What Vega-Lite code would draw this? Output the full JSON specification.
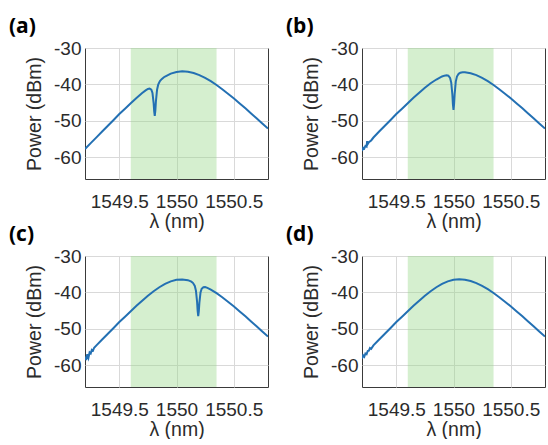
{
  "$schema": "https://vega.github.io/schema/vega-lite/v6.json",
  "padding": {"left": 8, "top": 15, "right": 0, "bottom": 0},
  "background": "white",
  "columns": 2,
  "bounds": "flush",
  "spacing": {"row": 77, "column": 94},
  "config": {
    "view": {"stroke": "#3a3a3a", "strokeWidth": 1},
    "axis": {
      "labelFont": "Liberation Sans", "labelFontSize": 19, "labelColor": "#2b2b2b",
      "titleFont": "Liberation Sans", "titleFontSize": 19.5, "titleFontWeight": "normal", "titleColor": "#2b2b2b",
      "gridColor": "#d9d9d9", "gridWidth": 1, "domain": false, "ticks": false, "labelOverlap": false, "labelFlush": false
    },
    "title": {"anchor": "start", "frame": "group", "dx": -76, "offset": 2, "fontSize": 21, "fontWeight": "bold", "font": "Open Sans", "color": "#000000"}
  },
  "datasets": {
    "band": [{"x0": 1549.6, "x1": 1550.35}],
    "spec": [
      {"p":"a","x":1549.20,"y":-57.74},{"p":"a","x":1549.25,"y":-56.14},{"p":"a","x":1549.30,"y":-54.55},{"p":"a","x":1549.35,"y":-52.95},{"p":"a","x":1549.40,"y":-51.36},{"p":"a","x":1549.45,"y":-49.78},{"p":"a","x":1549.50,"y":-48.15},{"p":"a","x":1549.55,"y":-46.68},{"p":"a","x":1549.60,"y":-45.16},{"p":"a","x":1549.65,"y":-43.73},{"p":"a","x":1549.70,"y":-42.38},{"p":"a","x":1549.73,"y":-41.66},{"p":"a","x":1549.75,"y":-41.27},{"p":"a","x":1549.765,"y":-41.16},{"p":"a","x":1549.78,"y":-41.45},{"p":"a","x":1549.79,"y":-42.38},{"p":"a","x":1549.80,"y":-45.12},{"p":"a","x":1549.805,"y":-47.42},{"p":"a","x":1549.81,"y":-48.67},{"p":"a","x":1549.815,"y":-47.20},{"p":"a","x":1549.82,"y":-44.68},{"p":"a","x":1549.83,"y":-41.47},{"p":"a","x":1549.84,"y":-40.08},{"p":"a","x":1549.855,"y":-39.11},{"p":"a","x":1549.87,"y":-38.57},{"p":"a","x":1549.89,"y":-38.05},{"p":"a","x":1549.90,"y":-37.83},{"p":"a","x":1549.95,"y":-37.05},{"p":"a","x":1550.00,"y":-36.58},{"p":"a","x":1550.05,"y":-36.40},{"p":"a","x":1550.10,"y":-36.52},{"p":"a","x":1550.15,"y":-36.87},{"p":"a","x":1550.20,"y":-37.44},{"p":"a","x":1550.25,"y":-38.20},{"p":"a","x":1550.30,"y":-39.12},{"p":"a","x":1550.35,"y":-40.17},{"p":"a","x":1550.40,"y":-41.32},{"p":"a","x":1550.45,"y":-42.55},{"p":"a","x":1550.50,"y":-43.83},{"p":"a","x":1550.55,"y":-45.16},{"p":"a","x":1550.60,"y":-46.52},{"p":"a","x":1550.65,"y":-47.91},{"p":"a","x":1550.70,"y":-49.31},{"p":"a","x":1550.75,"y":-50.72},{"p":"a","x":1550.80,"y":-52.15},

      {"p":"b","x":1549.20,"y":-58.3},{"p":"b","x":1549.21,"y":-57.4},{"p":"b","x":1549.22,"y":-57.6},{"p":"b","x":1549.23,"y":-56.9},{"p":"b","x":1549.24,"y":-57.1},{"p":"b","x":1549.245,"y":-55.6},{"p":"b","x":1549.25,"y":-56.4},{"p":"b","x":1549.26,"y":-55.9},{"p":"b","x":1549.28,"y":-55.4},{"p":"b","x":1549.30,"y":-54.6},{"p":"b","x":1549.35,"y":-52.95},{"p":"b","x":1549.40,"y":-51.36},{"p":"b","x":1549.45,"y":-49.78},{"p":"b","x":1549.50,"y":-48.15},{"p":"b","x":1549.55,"y":-46.68},{"p":"b","x":1549.60,"y":-45.16},{"p":"b","x":1549.65,"y":-43.68},{"p":"b","x":1549.70,"y":-42.27},{"p":"b","x":1549.75,"y":-40.92},{"p":"b","x":1549.80,"y":-39.69},{"p":"b","x":1549.85,"y":-38.66},{"p":"b","x":1549.90,"y":-37.82},{"p":"b","x":1549.92,"y":-37.60},{"p":"b","x":1549.94,"y":-37.50},{"p":"b","x":1549.955,"y":-37.62},{"p":"b","x":1549.97,"y":-38.22},{"p":"b","x":1549.98,"y":-39.46},{"p":"b","x":1549.99,"y":-42.78},{"p":"b","x":1549.995,"y":-45.48},{"p":"b","x":1550.00,"y":-47.00},{"p":"b","x":1550.005,"y":-45.42},{"p":"b","x":1550.01,"y":-42.67},{"p":"b","x":1550.02,"y":-39.22},{"p":"b","x":1550.03,"y":-37.86},{"p":"b","x":1550.045,"y":-37.09},{"p":"b","x":1550.06,"y":-36.80},{"p":"b","x":1550.08,"y":-36.67},{"p":"b","x":1550.10,"y":-36.67},{"p":"b","x":1550.15,"y":-36.94},{"p":"b","x":1550.20,"y":-37.44},{"p":"b","x":1550.25,"y":-38.20},{"p":"b","x":1550.30,"y":-39.12},{"p":"b","x":1550.35,"y":-40.17},{"p":"b","x":1550.40,"y":-41.32},{"p":"b","x":1550.45,"y":-42.55},{"p":"b","x":1550.50,"y":-43.83},{"p":"b","x":1550.55,"y":-45.16},{"p":"b","x":1550.60,"y":-46.52},{"p":"b","x":1550.65,"y":-47.91},{"p":"b","x":1550.70,"y":-49.31},{"p":"b","x":1550.75,"y":-50.72},{"p":"b","x":1550.80,"y":-52.15},

      {"p":"c","x":1549.20,"y":-57.6},{"p":"c","x":1549.21,"y":-58.6},{"p":"c","x":1549.22,"y":-57.0},{"p":"c","x":1549.23,"y":-58.0},{"p":"c","x":1549.24,"y":-56.5},{"p":"c","x":1549.25,"y":-56.8},{"p":"c","x":1549.26,"y":-55.8},{"p":"c","x":1549.27,"y":-56.0},{"p":"c","x":1549.28,"y":-55.2},{"p":"c","x":1549.30,"y":-54.55},{"p":"c","x":1549.35,"y":-52.95},{"p":"c","x":1549.40,"y":-51.36},{"p":"c","x":1549.45,"y":-49.78},{"p":"c","x":1549.50,"y":-48.15},{"p":"c","x":1549.55,"y":-46.68},{"p":"c","x":1549.60,"y":-45.16},{"p":"c","x":1549.65,"y":-43.68},{"p":"c","x":1549.70,"y":-42.27},{"p":"c","x":1549.75,"y":-40.92},{"p":"c","x":1549.80,"y":-39.69},{"p":"c","x":1549.85,"y":-38.59},{"p":"c","x":1549.90,"y":-37.67},{"p":"c","x":1549.95,"y":-36.98},{"p":"c","x":1550.00,"y":-36.55},{"p":"c","x":1550.05,"y":-36.47},{"p":"c","x":1550.10,"y":-36.68},{"p":"c","x":1550.11,"y":-36.77},{"p":"c","x":1550.13,"y":-37.06},{"p":"c","x":1550.145,"y":-37.44},{"p":"c","x":1550.16,"y":-38.24},{"p":"c","x":1550.17,"y":-39.52},{"p":"c","x":1550.18,"y":-42.62},{"p":"c","x":1550.185,"y":-45.09},{"p":"c","x":1550.19,"y":-46.51},{"p":"c","x":1550.195,"y":-45.22},{"p":"c","x":1550.20,"y":-42.87},{"p":"c","x":1550.21,"y":-40.02},{"p":"c","x":1550.22,"y":-39.00},{"p":"c","x":1550.235,"y":-38.57},{"p":"c","x":1550.25,"y":-38.55},{"p":"c","x":1550.27,"y":-38.75},{"p":"c","x":1550.30,"y":-39.23},{"p":"c","x":1550.35,"y":-40.22},{"p":"c","x":1550.40,"y":-41.32},{"p":"c","x":1550.45,"y":-42.55},{"p":"c","x":1550.50,"y":-43.83},{"p":"c","x":1550.55,"y":-45.16},{"p":"c","x":1550.60,"y":-46.52},{"p":"c","x":1550.65,"y":-47.91},{"p":"c","x":1550.70,"y":-49.31},{"p":"c","x":1550.75,"y":-50.72},{"p":"c","x":1550.80,"y":-52.15},

      {"p":"d","x":1549.20,"y":-58.2},{"p":"d","x":1549.21,"y":-57.3},{"p":"d","x":1549.22,"y":-57.7},{"p":"d","x":1549.23,"y":-56.8},{"p":"d","x":1549.24,"y":-57.0},{"p":"d","x":1549.25,"y":-56.1},{"p":"d","x":1549.26,"y":-56.0},{"p":"d","x":1549.27,"y":-55.3},{"p":"d","x":1549.28,"y":-55.5},{"p":"d","x":1549.30,"y":-54.55},{"p":"d","x":1549.35,"y":-52.95},{"p":"d","x":1549.40,"y":-51.36},{"p":"d","x":1549.45,"y":-49.78},{"p":"d","x":1549.50,"y":-48.15},{"p":"d","x":1549.55,"y":-46.68},{"p":"d","x":1549.60,"y":-45.16},{"p":"d","x":1549.65,"y":-43.68},{"p":"d","x":1549.70,"y":-42.27},{"p":"d","x":1549.75,"y":-40.92},{"p":"d","x":1549.80,"y":-39.69},{"p":"d","x":1549.85,"y":-38.59},{"p":"d","x":1549.90,"y":-37.67},{"p":"d","x":1549.95,"y":-36.98},{"p":"d","x":1550.00,"y":-36.55},{"p":"d","x":1550.05,"y":-36.40},{"p":"d","x":1550.10,"y":-36.52},{"p":"d","x":1550.15,"y":-36.87},{"p":"d","x":1550.20,"y":-37.44},{"p":"d","x":1550.25,"y":-38.20},{"p":"d","x":1550.30,"y":-39.12},{"p":"d","x":1550.35,"y":-40.17},{"p":"d","x":1550.40,"y":-41.32},{"p":"d","x":1550.45,"y":-42.55},{"p":"d","x":1550.50,"y":-43.83},{"p":"d","x":1550.55,"y":-45.16},{"p":"d","x":1550.60,"y":-46.52},{"p":"d","x":1550.65,"y":-47.91},{"p":"d","x":1550.70,"y":-49.31},{"p":"d","x":1550.75,"y":-50.72},{"p":"d","x":1550.80,"y":-52.15}
    ]
  },
  "concat": [
    {
      "title": {"text": "(a)"},
      "width": 183, "height": 131,
      "layer": [
        {"data": {"name": "band"}, "mark": {"type": "rect", "fill": "#96d787", "opacity": 0.4},
         "encoding": {"x": {"field": "x0", "type": "quantitative", "scale": {"domain": [1549.2, 1550.8], "nice": false, "zero": false}, "axis": {"title": "λ (nm)", "values": [1549.5, 1550, 1550.5], "labelExpr": "format(datum.value, '~g')", "labelPadding": 13, "titlePadding": 1}}, "x2": {"field": "x1"}}},
        {"data": {"name": "spec"}, "transform": [{"filter": "datum.p === 'a'"}], "mark": {"type": "line", "color": "#2370b3", "strokeWidth": 2, "clip": true},
         "encoding": {"x": {"field": "x", "type": "quantitative", "axis": {"title": "λ (nm)", "values": [1549.5, 1550, 1550.5], "labelExpr": "format(datum.value, '~g')", "labelPadding": 13, "titlePadding": 1}},
                      "y": {"field": "y", "type": "quantitative", "scale": {"domain": [-66, -30], "nice": false, "zero": false}, "axis": {"title": "Power (dBm)", "values": [-30, -40, -50, -60], "labelExpr": "'' + datum.value", "labelPadding": 4, "titlePadding": 9}}}}
      ]
    },
    {
      "title": {"text": "(b)"},
      "width": 183, "height": 131,
      "layer": [
        {"data": {"name": "band"}, "mark": {"type": "rect", "fill": "#96d787", "opacity": 0.4},
         "encoding": {"x": {"field": "x0", "type": "quantitative", "scale": {"domain": [1549.2, 1550.8], "nice": false, "zero": false}, "axis": {"title": "λ (nm)", "values": [1549.5, 1550, 1550.5], "labelExpr": "format(datum.value, '~g')", "labelPadding": 13, "titlePadding": 1}}, "x2": {"field": "x1"}}},
        {"data": {"name": "spec"}, "transform": [{"filter": "datum.p === 'b'"}], "mark": {"type": "line", "color": "#2370b3", "strokeWidth": 2, "clip": true},
         "encoding": {"x": {"field": "x", "type": "quantitative", "axis": {"title": "λ (nm)", "values": [1549.5, 1550, 1550.5], "labelExpr": "format(datum.value, '~g')", "labelPadding": 13, "titlePadding": 1}},
                      "y": {"field": "y", "type": "quantitative", "scale": {"domain": [-66, -30], "nice": false, "zero": false}, "axis": {"title": "Power (dBm)", "values": [-30, -40, -50, -60], "labelExpr": "'' + datum.value", "labelPadding": 4, "titlePadding": 9}}}}
      ]
    },
    {
      "title": {"text": "(c)"},
      "width": 183, "height": 131,
      "layer": [
        {"data": {"name": "band"}, "mark": {"type": "rect", "fill": "#96d787", "opacity": 0.4},
         "encoding": {"x": {"field": "x0", "type": "quantitative", "scale": {"domain": [1549.2, 1550.8], "nice": false, "zero": false}, "axis": {"title": "λ (nm)", "values": [1549.5, 1550, 1550.5], "labelExpr": "format(datum.value, '~g')", "labelPadding": 13, "titlePadding": 1}}, "x2": {"field": "x1"}}},
        {"data": {"name": "spec"}, "transform": [{"filter": "datum.p === 'c'"}], "mark": {"type": "line", "color": "#2370b3", "strokeWidth": 2, "clip": true},
         "encoding": {"x": {"field": "x", "type": "quantitative", "axis": {"title": "λ (nm)", "values": [1549.5, 1550, 1550.5], "labelExpr": "format(datum.value, '~g')", "labelPadding": 13, "titlePadding": 1}},
                      "y": {"field": "y", "type": "quantitative", "scale": {"domain": [-66, -30], "nice": false, "zero": false}, "axis": {"title": "Power (dBm)", "values": [-30, -40, -50, -60], "labelExpr": "'' + datum.value", "labelPadding": 4, "titlePadding": 9}}}}
      ]
    },
    {
      "title": {"text": "(d)"},
      "width": 183, "height": 131,
      "layer": [
        {"data": {"name": "band"}, "mark": {"type": "rect", "fill": "#96d787", "opacity": 0.4},
         "encoding": {"x": {"field": "x0", "type": "quantitative", "scale": {"domain": [1549.2, 1550.8], "nice": false, "zero": false}, "axis": {"title": "λ (nm)", "values": [1549.5, 1550, 1550.5], "labelExpr": "format(datum.value, '~g')", "labelPadding": 13, "titlePadding": 1}}, "x2": {"field": "x1"}}},
        {"data": {"name": "spec"}, "transform": [{"filter": "datum.p === 'd'"}], "mark": {"type": "line", "color": "#2370b3", "strokeWidth": 2, "clip": true},
         "encoding": {"x": {"field": "x", "type": "quantitative", "axis": {"title": "λ (nm)", "values": [1549.5, 1550, 1550.5], "labelExpr": "format(datum.value, '~g')", "labelPadding": 13, "titlePadding": 1}},
                      "y": {"field": "y", "type": "quantitative", "scale": {"domain": [-66, -30], "nice": false, "zero": false}, "axis": {"title": "Power (dBm)", "values": [-30, -40, -50, -60], "labelExpr": "'' + datum.value", "labelPadding": 4, "titlePadding": 9}}}}
      ]
    }
  ]
}
